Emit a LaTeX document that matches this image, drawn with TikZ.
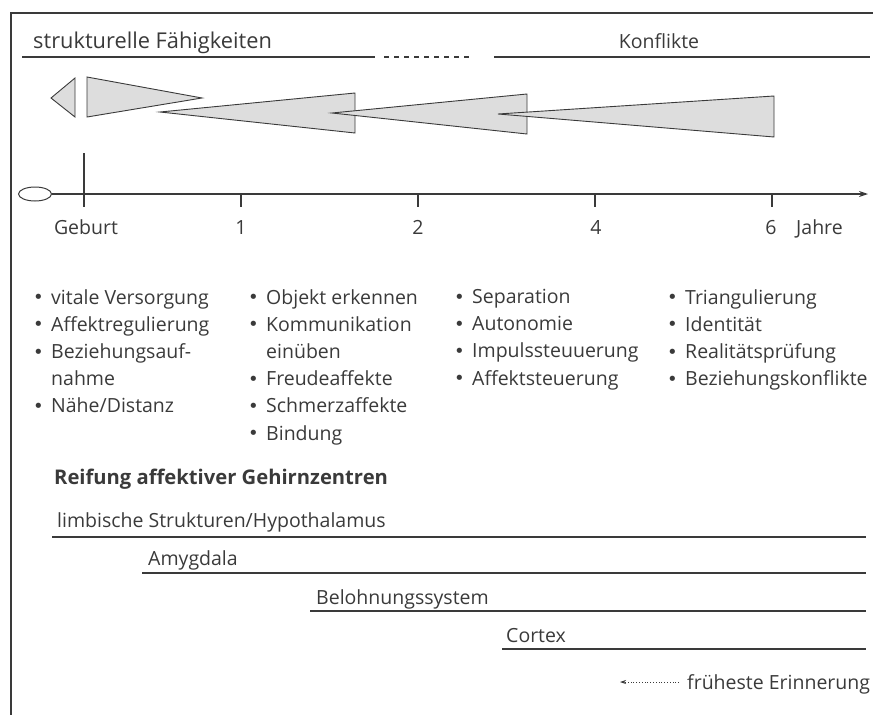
\documentclass[tikz,border=0pt]{standalone}
\usepackage{fontspec}
\setmainfont{Open Sans}
\newfontfamily\symfont{DejaVu Sans}
\usetikzlibrary{shapes.geometric, arrows.meta}

\definecolor{ink}{HTML}{3A3A3A}
\definecolor{wedgegray}{HTML}{DDDDDD}

\newcommand{\bul}{\makebox[18pt][l]{\raisebox{0.3pt}{\symfont\fontsize{18}{18}\selectfont •}}}
\newcommand{\hang}{\hspace*{18pt}}

\tikzset{
  txt/.style={font=\fontsize{19.5}{27.2}\selectfont, text=ink, inner sep=0pt},
  bigtxt/.style={txt, font=\fontsize{21.8}{27.2}\selectfont},
  headtxt/.style={txt, font=\fontsize{20.2}{27.2}\selectfont\bfseries},
  listcol/.style={txt, align=left, anchor=north west},
  rule/.style={draw=ink, line width=1.2pt},
  frame/.style={draw=ink, line width=1.6pt},
  wedge/.style={draw=ink, line width=0.9pt, fill=wedgegray, line join=miter},
  tick/.style={draw=ink, line width=1.2pt}
}

\begin{document}
\begin{tikzpicture}[x=1pt, y=-1pt]
    \useasboundingbox (0,0) rectangle (873,715);

    % Frame (top and left only)
    \draw[frame] (873,13) -- (11,13) -- (11,715);

    % Headings
    \node[bigtxt, anchor=base west] (struct) at (33,48) {strukturelle Fähigkeiten};
    \node[txt, anchor=base] (konfl) at (659,48) {Konflikte};
    \coordinate (hl1) at (22,57);
    \coordinate (hl2) at (375,57);
    \coordinate (hl3) at (384,57);
    \coordinate (hl4) at (473,57);
    \coordinate (hl5) at (494,57);
    \coordinate (hl6) at (870,57);
    \draw[rule] (hl1) -- (hl2);
    \draw[rule, dash pattern=on 5pt off 5pt] (hl3) -- (hl4);
    \draw[rule] (hl5) -- (hl6);

    % Wedges
    \draw[wedge] (51,98) -- (75,78) -- (75,117) -- cycle;
    \draw[wedge] (87,77) -- (202,98) -- (87,117) -- cycle;
    \draw[wedge] (160,112) -- (355,93) -- (355,133) -- cycle;
    \draw[wedge] (332,113) -- (527,94) -- (527,134) -- cycle;
    \draw[wedge] (498,114) -- (774,96) -- (774,137) -- cycle;

    % Time axis
    \node[ellipse, draw=ink, line width=1pt, minimum width=33pt, minimum height=14pt, inner sep=0pt] (origin) at (35,194) {};
    \coordinate (axend) at (868,194);
    \draw[rule, -{Stealth[length=9pt, width=6pt, inset=3pt]}] (origin.east) -- (axend);
    \draw[tick] (84,153) -- (84,207);
    \draw[tick] (241,194) -- (241,207);
    \draw[tick] (418,194) -- (418,207);
    \draw[tick] (595,194) -- (595,207);
    \draw[tick] (772,194) -- (772,207);

    \node[txt, anchor=base] (birth) at (86,234) {Geburt};
    \node[txt, anchor=base] (yr1) at (241,234) {1};
    \node[txt, anchor=base] (yr2) at (418,234) {2};
    \node[txt, anchor=base] (yr4) at (596,234) {4};
    \node[txt, anchor=base] (yr6) at (771,234) {6};
    \node[txt, anchor=base west] (years) at (796,234) {Jahre};

    % Development tasks
    \node[listcol] (tasksA) at (33,289) {\bul vitale Versorgung\\ \bul Affektregulierung\\ \bul Beziehungsauf-\\ \hang nahme\\ \bul Nähe/Distanz};
    \node[listcol] (tasksB) at (248,289) {\bul Objekt erkennen\\ \bul Kommunikation\\ \hang einüben\\ \bul Freudeaffekte\\ \bul Schmerzaffekte\\ \bul Bindung};
    \node[listcol] (tasksC) at (454,289) {\bul Separation\\ \bul Autonomie\\ \bul Impulssteuuerung\\ \bul Affektsteuerung};
    \node[listcol] (tasksD) at (667,289) {\bul Triangulierung\\ \bul Identität\\ \bul Realitätsprüfung\\ \bul Beziehungskonflikte};

    % Brain centres
    \node[headtxt, anchor=base west] (reif) at (54,484) {Reifung affektiver Gehirnzentren};

    \node[txt, anchor=base west] (limb) at (57,527) {limbische Strukturen/Hypothalamus};
    \draw[rule] (52,537) -- (866,537);
    \node[txt, anchor=base west] (amyg) at (148,565) {Amygdala};
    \draw[rule] (142,573) -- (866,573);
    \node[txt, anchor=base west] (belo) at (316,604) {Belohnungssystem};
    \draw[rule] (310,611) -- (866,611);
    \node[txt, anchor=base west] (cort) at (506,642) {Cortex};
    \draw[rule] (502,649) -- (866,649);

    % Earliest memory
    \node[txt, anchor=base west] (memo) at (687,689) {früheste Erinnerung};
    \coordinate (memoend) at (620,682);
    \draw[draw=ink, line width=0.8pt, dotted, -{Stealth[length=6pt, width=4pt]}] (memo.west |- memoend) ++(-8,0) -- (memoend);
\end{tikzpicture}
\end{document}
